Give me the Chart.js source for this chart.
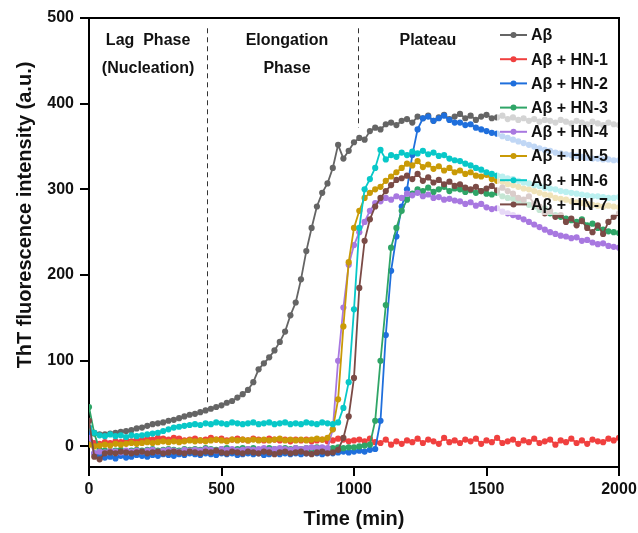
<!DOCTYPE html>
<html>
<head>
<meta charset="utf-8">
<script src="https://cdn.jsdelivr.net/npm/chart.js@4.4.1/dist/chart.umd.min.js"></script>
<style>
  body { margin: 0; background: #fff; }
  canvas { display: block; }
</style>
</head>
<body>
<canvas id="thtChart" width="638" height="533"></canvas>
<script>
// time points (min)
const times = [
  0, 20, 40, 60, 80, 100, 120, 140, 160, 180,
  200, 220, 240, 260, 280, 300, 320, 340, 360, 380,
  400, 420, 440, 460, 480, 500, 520, 540, 560, 580,
  600, 620, 640, 660, 680, 700, 720, 740, 760, 780,
  800, 820, 840, 860, 880, 900, 920, 940, 960, 980,
  1000, 1020, 1040, 1060, 1080, 1100, 1120, 1140, 1160, 1180,
  1200, 1220, 1240, 1260, 1280, 1300, 1320, 1340, 1360, 1380,
  1400, 1420, 1440, 1460, 1480, 1500, 1520, 1540, 1560, 1580,
  1600, 1620, 1640, 1660, 1680, 1700, 1720, 1740, 1760, 1780,
  1800, 1820, 1840, 1860, 1880, 1900, 1920, 1940, 1960, 1980,
  2000
];

const seriesNames = ['Aβ', 'Aβ + HN-1', 'Aβ + HN-2', 'Aβ + HN-3', 'Aβ + HN-4', 'Aβ + HN-5', 'Aβ + HN-6', 'Aβ + HN-7'];
const seriesColors = ['#656565', '#f0403f', '#1f6fdc', '#2fa567', '#a878e0', '#c99a06', '#08c8c8', '#7b4b46'];

const abeta = [
  22, 16, 14, 14, 15, 16, 17, 18, 19, 21,
  22, 24, 26, 27, 28, 30, 31, 33, 35, 37,
  38, 40, 42, 44, 46, 48, 51, 53, 57, 61,
  66, 75, 90, 97, 104, 112, 122, 134, 153, 168,
  195, 228, 255, 280, 296, 307, 325, 352, 336, 345,
  355, 360, 358, 368, 372, 370, 376, 378, 375, 380,
  382, 378, 385, 383, 386, 380, 384, 387, 382, 385,
  388, 383, 386, 381, 385, 387, 383, 384, 386, 382,
  384, 381, 383, 380, 382, 379, 381, 380, 378, 381,
  379, 377, 380, 378, 376, 379, 377, 375, 378, 376,
  375
];
const hn1 = [
  12, 4, 3, 5, 4, 6, 5, 7, 6, 8,
  7, 9, 8, 10, 9, 8, 10, 9, 7, 8,
  9, 7, 8, 10, 8, 9, 7, 8, 9, 8,
  7, 9, 8, 7, 9, 8, 7, 8, 6, 8,
  7, 8, 6, 7, 8, 6, 7, 9, 8, 6,
  7, 8, 6, 9, 5, 4, 8, 2, 6, 3,
  7, 5, 9, 4, 8, 6, 3, 10, 5, 7,
  4, 8, 6, 9, 3, 7, 5, 10, 4, 6,
  8, 3, 7, 5, 9, 4, 6, 8, 2, 7,
  5, 9, 4, 7, 3, 8, 6, 5, 9, 7,
  10
];
const hn2 = [
  15, -8, -12, -13, -12, -14, -11, -13, -12, -10,
  -11, -12, -10, -11, -9, -10, -11, -9, -10, -8,
  -9, -10, -8, -9, -10, -8, -9, -8, -10, -9,
  -8, -9, -8, -10, -9, -8, -9, -8, -9, -8,
  -9, -8, -7, -8, -9, -7, -8, -7, -6, -7,
  -6, -5, -6, -4, -3, 30, 130, 205, 245, 280,
  300, 340, 370, 383, 385, 380, 383, 386, 381, 378,
  378, 375, 376, 372, 370, 368, 366, 365, 362, 360,
  358, 356, 354, 352, 350, 348, 346, 345, 343, 342,
  341, 340, 339, 338, 337, 336, 336, 335, 335, 334,
  334
];
const hn3 = [
  46, 15, -4, -5, -6, -5, -4, -6, -5, -4,
  -5, -4, -3, -5, -4, -3, -4, -5, -3, -4,
  -3, -4, -2, -3, -4, -3, -2, -4, -3, -2,
  -3, -2, -4, -3, -2, -3, -4, -2, -3, -2,
  -3, -2, -3, -1, -2, -3, -2, -1, -2, -1,
  -1, 0, 1, 2, 30, 100, 165, 232, 255, 275,
  288, 295, 300, 298, 302, 297, 300, 303, 298, 301,
  300, 297, 299, 296, 298, 295, 294, 296, 292, 290,
  289, 286, 285, 282, 280, 276, 278, 272, 270, 268,
  266, 264, 262, 265, 258, 260, 255, 253, 251, 250,
  249
];
const hn4 = [
  10, -8, -6, -7, -5, -6, -7, -5, -6, -5,
  -6, -5, -4, -6, -5, -4, -5, -6, -4, -5,
  -4, -5, -3, -4, -5, -3, -4, -3, -5, -4,
  -3, -4, -3, -2, -4, -3, -2, -3, -4, -2,
  -3, -2, -1, -2, -1, -2, 20, 100, 162, 212,
  235, 250, 262, 275, 284, 286, 290, 288, 292, 290,
  295, 293, 296, 292, 294, 290, 291, 288, 289, 287,
  286, 283, 285, 281, 283, 279, 277, 278, 274, 272,
  270, 268, 265, 262, 259, 256, 253, 250, 248, 246,
  245, 243, 244, 240, 241, 238, 236, 237, 234, 233,
  232
];
const hn5 = [
  2, 0, 1, 2, 1, 3, 2, 3, 4, 3,
  4, 5, 4, 5, 6, 5, 6, 5, 6, 7,
  6, 7, 6, 7, 8, 7, 6, 8, 7, 8,
  7, 8, 7, 8, 7, 8, 9, 7, 8, 7,
  8, 7, 8, 9, 8, 10, 20, 55, 140, 215,
  255, 275, 290, 296, 300, 303, 310, 315, 320, 325,
  330, 328, 333, 326, 329, 324, 327, 322, 325, 320,
  322, 318, 320, 316, 315, 317, 312, 310, 309, 306,
  305, 303, 301, 300, 298, 296, 294, 293, 290, 289,
  288, 286, 285, 284, 283, 282, 281, 280, 281, 280,
  279
];
const hn6 = [
  22, 16, 13, 12, 14, 12, 13, 11, 13, 12,
  13, 14, 15, 16, 18, 20, 22, 23, 24, 25,
  26, 25, 27, 26, 28, 27, 26, 28, 27, 26,
  27, 28, 26, 27, 28, 26, 27, 28, 26, 27,
  26, 28, 27, 26, 28, 27, 26, 28, 45, 75,
  160, 255, 300, 312, 325, 346, 335, 340, 338, 343,
  340, 344, 342, 345, 341, 343, 339, 340, 336, 334,
  333, 330, 328, 325, 323, 320, 318, 316, 315, 313,
  312, 310, 308, 307, 305, 304, 302, 301, 300, 298,
  297, 296, 295, 294, 293, 292, 292, 291, 290, 290,
  291
];
const hn7 = [
  30, -12, -15, -8, -7, -8, -6, -7, -8, -7,
  -6, -8, -7, -6, -8, -7, -6, -7, -8, -6,
  -7, -8, -6, -7, -5, -7, -8, -6, -7, -8,
  -6, -7, -8, -6, -7, -9, -7, -6, -8, -7,
  -6, -8, -9, -7, -6, -8, -7, -4, 10, 35,
  80, 185, 240, 265, 280, 290, 298, 305, 311, 313,
  316, 312, 318, 310, 314, 308, 311, 306, 309, 304,
  306, 302, 300, 303, 298, 301, 304, 299, 302, 298,
  295, 290, 288, 292, 283, 280, 272, 275, 268, 270,
  262, 266, 258, 263, 255, 250, 258, 248, 262, 268,
  272
];
const seriesValues = [abeta, hn1, hn2, hn3, hn4, hn5, hn6, hn7];

// phase boundaries (min) and where each dashed line stops
const phaseLineTimes = [445, 1015];
const phaseLineTop = [488, 488];
const phaseLineBottom = [47, 372];
const phaseLabels = [
  ['Lag  Phase', '(Nucleation)'],
  ['Elongation', 'Phase'],
  ['Plateau']
];
const phaseLabelTimes = [223, 747, 1279];

const FONT = 'Arial, "Liberation Sans", sans-serif';

const overlayPlugin = {
  id: 'overlay',
  afterDatasetsDraw(chart) {
    const ctx = chart.ctx;
    const {chartArea: area, scales: {x, y}} = chart;
    ctx.save();

    // top and right frame
    ctx.strokeStyle = '#000';
    ctx.lineWidth = 2;
    ctx.beginPath();
    ctx.moveTo(area.left, area.top);
    ctx.lineTo(area.right, area.top);
    ctx.lineTo(area.right, area.bottom);
    ctx.stroke();

    // phase separators
    ctx.lineWidth = 1;
    ctx.strokeStyle = '#333';
    ctx.setLineDash([5, 4]);
    phaseLineTimes.forEach((t, i) => {
      const px = Math.round(x.getPixelForValue(t)) + 0.5;
      ctx.beginPath();
      ctx.moveTo(px, y.getPixelForValue(phaseLineTop[i]));
      ctx.lineTo(px, y.getPixelForValue(phaseLineBottom[i]));
      ctx.stroke();
    });
    ctx.setLineDash([]);

    // phase labels
    ctx.fillStyle = '#111';
    ctx.font = 'bold 16px ' + FONT;
    ctx.textAlign = 'center';
    ctx.textBaseline = 'alphabetic';
    phaseLabels.forEach((lines, i) => {
      const px = x.getPixelForValue(phaseLabelTimes[i]);
      lines.forEach((txt, k) => ctx.fillText(txt, px, area.top + 27 + k * 28));
    });

    // legend
    const lx = 497, ly = 22;
    ctx.fillStyle = 'rgba(255,255,255,0.72)';
    ctx.fillRect(lx, ly, area.right - lx - 1, 193);
    ctx.font = 'bold 16px ' + FONT;
    ctx.textAlign = 'left';
    ctx.textBaseline = 'middle';
    seriesNames.forEach((name, i) => {
      const cy = 35 + i * 24.2;
      ctx.strokeStyle = seriesColors[i];
      ctx.lineWidth = 2;
      ctx.beginPath();
      ctx.moveTo(500, cy);
      ctx.lineTo(527, cy);
      ctx.stroke();
      ctx.fillStyle = seriesColors[i];
      ctx.beginPath();
      ctx.arc(513.5, cy, 3, 0, Math.PI * 2);
      ctx.fill();
      ctx.fillStyle = '#111';
      ctx.fillText(name, 531, cy + 1);
    });

    // axis titles
    ctx.fillStyle = '#111';
    ctx.font = 'bold 20px ' + FONT;
    ctx.textAlign = 'center';
    ctx.textBaseline = 'alphabetic';
    ctx.fillText('Time (min)', (area.left + area.right) / 2, 525);
    ctx.translate(31, 215);
    ctx.rotate(-Math.PI / 2);
    ctx.fillText('ThT fluorescence intensity (a.u.)', 0, 0);
    ctx.restore();
  }
};

const tickFont = {family: FONT, size: 16, weight: 'bold'};
const plainTick = (v) => String(v);

new Chart(document.getElementById('thtChart').getContext('2d'), {
  type: 'line',
  data: {
    datasets: seriesNames.map((name, i) => ({
      label: name,
      data: times.map((t, j) => ({x: t, y: seriesValues[i][j]})),
      borderColor: seriesColors[i],
      backgroundColor: seriesColors[i],
      borderWidth: 1.8,
      pointRadius: 3.1,
      pointBorderWidth: 0,
      pointHoverRadius: 0,
      order: seriesNames.length - i
    }))
  },
  options: {
    responsive: false,
    animation: false,
    layout: {padding: {top: 18, right: 19, left: 0, bottom: 0}},
    plugins: {legend: {display: false}, tooltip: {enabled: false}},
    scales: {
      x: {
        type: 'linear',
        min: 0,
        max: 2000,
        ticks: {stepSize: 500, font: tickFont, color: '#111', padding: 4, maxRotation: 0, includeBounds: false, callback: plainTick},
        grid: {drawOnChartArea: false, tickLength: 9, color: '#000', lineWidth: 2},
        border: {color: '#000', width: 2},
        afterFit(scale) {
          scale.height = 66;
          scale.paddingLeft = 0;
          scale.paddingRight = 0;
        }
      },
      y: {
        min: -24,
        max: 500,
        ticks: {stepSize: 100, font: tickFont, color: '#111', padding: 6, includeBounds: false, callback: plainTick},
        grid: {drawOnChartArea: false, tickLength: 9, color: '#000', lineWidth: 2},
        border: {color: '#000', width: 2},
        afterFit(scale) {
          scale.width = 89;
          scale.paddingTop = 0;
          scale.paddingBottom = 0;
        }
      }
    }
  },
  plugins: [overlayPlugin]
});
</script>
</body>
</html>
